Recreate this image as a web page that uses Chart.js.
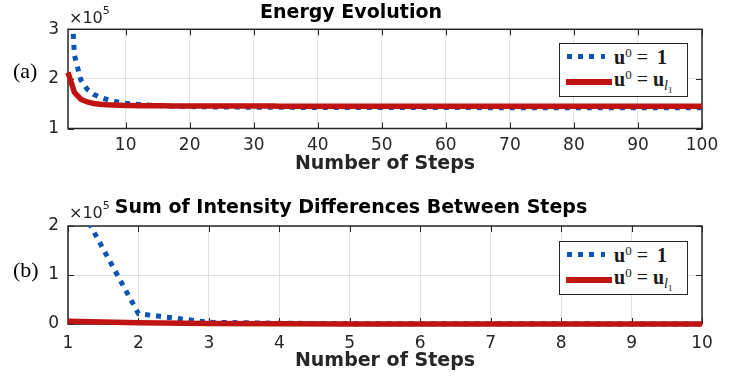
<!DOCTYPE html>
<html>
<head>
<meta charset="utf-8">
<script src="https://cdn.jsdelivr.net/npm/chart.js@4.4.0/dist/chart.umd.min.js"></script>
<style>
  body { margin: 0; background: #fff; }
  #wrap { position: relative; width: 743px; height: 381px; overflow: hidden; background: #fff; }
  canvas { position: absolute; left: 0; }
  .tag { position: absolute; left: 13px; font: 22px "Liberation Serif"; line-height: 22px; color: #000; }
  .expo { position: absolute; left: 69px; font: 16px "DejaVu Sans"; line-height: 16px; color: #262626; }
  .expo span { font-size: 11px; position: relative; top: -9px; }
  .legend { position: absolute; left: 559px; width: 127px; height: 52px; border: 1px solid #262626; background: #fff; }
  .smp { position: absolute; left: 7px; width: 39px; }
  .smp.blue { top: 10px; height: 5px; background: repeating-linear-gradient(to right, #0b54b5 0 4.8px, transparent 4.8px 11.2px); }
  .smp.red { top: 35px; height: 5.5px; left: 6px; width: 46px; background: #c01412; }
  .row { position: absolute; left: 54px; font: 20px "Liberation Serif"; line-height: 20px; color: #1a1a1a; white-space: nowrap; }
  .row b { font-weight: bold; }
  .row .sup { font-size: 13px; position: relative; top: -7px; }
  .row .eq { margin: 0 5px 0 5px; }
  .row .one { margin-left: 4px; }
  .row .sub { font-size: 14px; font-style: italic; position: relative; top: 4px; }
  .row .sub2 { font-size: 9px; position: relative; top: 7px; }
</style>
</head>
<body>
<div id="wrap">
  <canvas id="energy" width="743" height="190" style="top:0"></canvas>
  <canvas id="diffs" width="743" height="191" style="top:190px"></canvas>

  <div class="tag" style="top:60px">(a)</div>
  <div class="tag" style="top:259px">(b)</div>
  <div class="expo" style="top:10px">×10<span>5</span></div>
  <div class="expo" style="top:205px">×10<span>5</span></div>

  <div class="legend" style="top:43px">
    <div class="smp blue"></div>
    <div class="smp red"></div>
    <div class="row" style="top:3px"><b>u</b><span class="sup">0</span><span class="eq">=</span><b class="one">1</b></div>
    <div class="row" style="top:25px"><b>u</b><span class="sup">0</span><span class="eq">=</span><b>u</b><span class="sub">l</span><span class="sub2">1</span></div>
  </div>
  <div class="legend" style="top:241px">
    <div class="smp blue"></div>
    <div class="smp red"></div>
    <div class="row" style="top:3px"><b>u</b><span class="sup">0</span><span class="eq">=</span><b class="one">1</b></div>
    <div class="row" style="top:25px"><b>u</b><span class="sup">0</span><span class="eq">=</span><b>u</b><span class="sub">l</span><span class="sub2">1</span></div>
  </div>
</div>

<script>
// values in units of 10^5
const energySteps = Array.from({ length: 100 }, (_, i) => i + 1);
const energyOnes = [
  4.90, 2.48, 1.98, 1.79, 1.69, 1.63, 1.59, 1.555, 1.53, 1.51,
  1.495, 1.485, 1.477, 1.470, 1.463, 1.457, 1.452, 1.448, 1.445, 1.442,
  1.440, 1.438, 1.436, 1.435, 1.434, 1.433, 1.432, 1.431, 1.430, 1.429,
  1.428, 1.428, 1.427, 1.427, 1.426, 1.426, 1.425, 1.425, 1.425, 1.424,
  1.424, 1.424, 1.424, 1.423, 1.423, 1.423, 1.423, 1.423, 1.422, 1.422,
  1.422, 1.422, 1.422, 1.422, 1.422, 1.421, 1.421, 1.421, 1.421, 1.421,
  1.421, 1.421, 1.421, 1.421, 1.421, 1.420, 1.420, 1.420, 1.420, 1.420,
  1.420, 1.420, 1.420, 1.420, 1.420, 1.420, 1.420, 1.420, 1.420, 1.420,
  1.420, 1.420, 1.420, 1.420, 1.420, 1.420, 1.420, 1.420, 1.420, 1.420,
  1.420, 1.420, 1.420, 1.420, 1.420, 1.420, 1.420, 1.420, 1.420, 1.420
];
const energyL1 = [
  2.13, 1.73, 1.59, 1.535, 1.505, 1.49, 1.48, 1.473, 1.468, 1.465,
  1.463, 1.461, 1.460, 1.459, 1.458, 1.457, 1.456, 1.455, 1.455, 1.454,
  1.454, 1.454, 1.453, 1.453, 1.453, 1.453, 1.452, 1.452, 1.452, 1.452,
  1.452, 1.452, 1.452, 1.451, 1.451, 1.451, 1.451, 1.451, 1.451, 1.451,
  1.451, 1.451, 1.451, 1.451, 1.450, 1.450, 1.450, 1.450, 1.450, 1.450,
  1.450, 1.450, 1.450, 1.450, 1.450, 1.450, 1.450, 1.450, 1.450, 1.450,
  1.450, 1.450, 1.450, 1.450, 1.450, 1.450, 1.450, 1.450, 1.450, 1.450,
  1.450, 1.450, 1.450, 1.450, 1.450, 1.450, 1.450, 1.450, 1.450, 1.450,
  1.450, 1.450, 1.450, 1.450, 1.450, 1.450, 1.450, 1.450, 1.450, 1.450,
  1.450, 1.450, 1.450, 1.450, 1.450, 1.450, 1.450, 1.450, 1.450, 1.450
];
const energyXTicks = [10, 20, 30, 40, 50, 60, 70, 80, 90, 100];
const energyYTicks = [1, 2, 3];

const diffSteps = [1, 2, 3, 4, 5, 6, 7, 8, 9, 10];
const diffOnes = [2.85, 0.21, 0.035, 0.015, 0.008, 0.005, 0.004, 0.003, 0.002, 0.002];
const diffL1 = [0.055, 0.025, 0.008, 0.003, 0.001, 0, 0, 0, 0, 0];
const diffXTicks = [1, 2, 3, 4, 5, 6, 7, 8, 9, 10];
const diffYTicks = [0, 1, 2];

const BLUE = '#0b54b5';
const RED = '#c01412';
const AXIS = '#262626';
const GRID = '#e0e0e0';

// box round the axes with inward ticks, like the original figure
const frame = {
  id: 'frame',
  beforeDatasetsDraw(chart) {
    const { ctx, chartArea: a, scales: { x, y } } = chart;
    ctx.save();
    ctx.strokeStyle = AXIS;
    ctx.lineWidth = 1;
    ctx.beginPath();
    x.ticks.forEach(t => {
      const px = Math.round(x.getPixelForValue(t.value)) + 0.5;
      ctx.moveTo(px, a.bottom); ctx.lineTo(px, a.bottom - 6);
      ctx.moveTo(px, a.top); ctx.lineTo(px, a.top + 6);
    });
    y.ticks.forEach(t => {
      const py = Math.round(y.getPixelForValue(t.value)) + 0.5;
      ctx.moveTo(a.left, py); ctx.lineTo(a.left + 6, py);
      ctx.moveTo(a.right, py); ctx.lineTo(a.right - 6, py);
    });
    ctx.stroke();
    ctx.lineWidth = 1.5;
    ctx.strokeRect(a.left, a.top, a.right - a.left, a.bottom - a.top);
    ctx.restore();
  }
};

const toPoints = (xs, ys) => xs.map((v, i) => ({ x: v, y: ys[i] }));

function panel(id, p) {
  return new Chart(document.getElementById(id), {
    type: 'line',
    data: {
      datasets: [
        { data: toPoints(p.steps, p.ones), borderColor: BLUE, borderWidth: 5, borderDash: [5, 6],
          pointRadius: 0, order: 2, clip: { left: 3, top: 0, right: 3, bottom: 4 } },
        { data: toPoints(p.steps, p.l1), borderColor: RED, borderWidth: 5.5,
          pointRadius: 0, order: 1, clip: { left: 3, top: 0, right: 3, bottom: 4 } }
      ]
    },
    options: {
      responsive: false,
      animation: false,
      devicePixelRatio: 1,
      layout: { padding: { left: 0, right: 41, top: 0, bottom: p.padBottom } },
      plugins: {
        legend: { display: false },
        tooltip: { enabled: false },
        title: {
          display: true, text: p.title, color: '#000',
          font: { family: 'DejaVu Sans', size: 19, weight: 'bold' },
          padding: { top: p.titleTop, bottom: p.titleBottom }
        }
      },
      scales: {
        x: {
          type: 'linear', min: p.steps[0], max: p.steps[p.steps.length - 1],
          afterBuildTicks: s => { s.ticks = p.xTicks.map(v => ({ value: v })); },
          afterFit: s => { s.height = p.xHeight; },
          grid: { color: GRID, drawTicks: false },
          border: { display: false },
          ticks: { padding: p.xTickPad, color: AXIS, maxRotation: 0, autoSkip: false,
                   font: { family: 'DejaVu Sans', size: 17 } },
          title: { display: true, text: 'Number of Steps', color: AXIS, padding: 0,
                   font: { family: 'DejaVu Sans', size: 19, weight: 'bold' } }
        },
        y: {
          min: p.yTicks[0], max: p.yTicks[p.yTicks.length - 1],
          afterBuildTicks: s => { s.ticks = p.yTicks.map(v => ({ value: v })); },
          afterFit: s => { s.width = 68; },
          grid: { color: GRID, drawTicks: false },
          border: { display: false },
          ticks: { padding: 9, color: AXIS, font: { family: 'DejaVu Sans', size: 17 } }
        }
      }
    },
    plugins: [frame]
  });
}

panel('energy', {
  title: 'Energy Evolution', steps: energySteps, ones: energyOnes, l1: energyL1,
  xTicks: energyXTicks, yTicks: energyYTicks,
  titleTop: 1.2, titleBottom: 5.3, xHeight: 47, padBottom: 14.5, xTickPad: 6.5
});
panel('diffs', {
  title: 'Sum of Intensity Differences Between Steps', steps: diffSteps, ones: diffOnes, l1: diffL1,
  xTicks: diffXTicks, yTicks: diffYTicks,
  titleTop: 7.1, titleBottom: 6.1, xHeight: 48.5, padBottom: 8.5, xTickPad: 9
});
</script>
</body>
</html>
